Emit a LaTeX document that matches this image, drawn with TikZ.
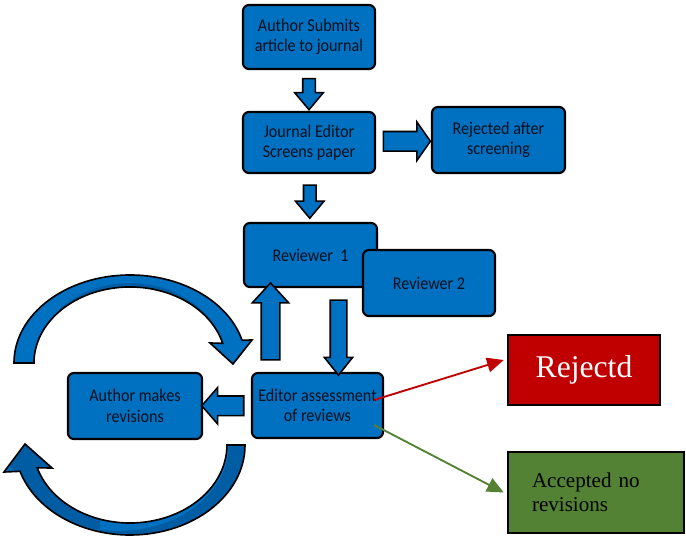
\documentclass[tikz,border=0pt]{standalone}
\usepackage{fontspec}
\setmainfont{Carlito}
\newfontfamily\boxfont[FakeStretch=0.9]{Carlito}
\newfontfamily\timesfont{Liberation Serif}
\usetikzlibrary{shapes.arrows, arrows.meta, calc}

\definecolor{boxblue}{HTML}{0070C0}
\definecolor{shadeblue}{HTML}{005DA3}
\definecolor{boxtext}{HTML}{06101E}
\definecolor{rejred}{HTML}{C00000}
\definecolor{accgreen}{HTML}{548235}

\begin{document}
\begin{tikzpicture}[x=0.3mm, y=-0.3mm, thick,
 flow box/.style 2 args={rectangle, rounded corners=5pt, draw=black, line width=1.8pt,
   fill=boxblue, text=boxtext, align=center, inner sep=0pt,
   font=\boxfont\fontsize{15.3}{17.5}\selectfont, minimum width=#1*0.3mm, minimum height=#2*0.3mm},
 outcome box/.style 2 args={rectangle, draw=black, line width=2.2pt, inner sep=0pt,
   minimum width=#1*0.3mm, minimum height=#2*0.3mm},
 block arrow/.style n args={4}{single arrow, draw=black, fill=boxblue, line width=1.3pt,
   inner xsep=0pt, inner ysep=#2, text height=0pt, text depth=0pt, minimum height=#1,
   single arrow head extend=#3, single arrow tip angle=#4},
 curl/.style={fill=boxblue, draw=black, line width=1.4pt},
 link/.style={line width=1.6pt, -{Triangle[length=5mm, width=4.4mm]}}]

  \useasboundingbox (0,0) rectangle (686,542);

  % boxes
  \node[flow box={132}{64}] (submit) at (309,37) {Author Submits\\article to journal};
  \node[flow box={132}{61}] (screen) at (309,142.5) {Journal Editor\\Screens paper};
  \node[flow box={133}{66}] (rejscreen) at (498.5,140) {Rejected after\\screening};
  \node[flow box={133}{64}] (rev1) at (310.5,255) {Reviewer\ \ 1};
  \node[flow box={132}{66}] (rev2) at (429,283) {Reviewer 2};
  \node[flow box={131}{65}] (assess) at (317.5,405.5) {Editor assessment\\of reviews};
  \node[flow box={134}{66}] (revise) at (135,406) {Author makes\\revisions};

  \node[outcome box={152}{70}, fill=rejred, text=white,
        font=\timesfont\fontsize{27}{30}\selectfont] (reject) at (584,370) {Rejectd};
  \node[outcome box={176}{81}, fill=accgreen, text=black, text width=38.4mm, align=left,
        font=\timesfont\fontsize{18}{20.5}\selectfont] (accept) at (596,492.5) {Accepted no\\revisions};

  % block arrows
  \node[block arrow={9.3mm}{1.65mm}{2.4mm}{80}, rotate=-90] (a1) at ($(submit.south)!.5!(screen.north)$) {};
  \node[block arrow={14.1mm}{2.7mm}{2.85mm}{110}] (a2) at ($(screen.east)!.5!(rejscreen.west)$) {};
  \node[block arrow={9.9mm}{1.65mm}{2.4mm}{80}, rotate=-90] (a3) at ($(screen.south)!.5!(rev1.north)$) {};
  \node[block arrow={22.5mm}{2.25mm}{1.8mm}{77}, rotate=-90] (a4) at (338.5,332.5) {};
  \node[block arrow={23.1mm}{2.55mm}{2.7mm}{85}, rotate=90] (a5) at (270.5,326.5) {};
  \node[block arrow={12.6mm}{2.7mm}{2.55mm}{98}, rotate=180] (a6) at ($(revise.east)!.5!(assess.west)$) {};

  % revision loop
  \filldraw[curl, path picture={
      \begin{scope}
        \clip (60,250) rectangle (210,363);
        \fill[shadeblue, even odd rule] (130,366) ellipse [x radius=97, y radius=83]
          (130,363) ellipse [x radius=96, y radius=76];
      \end{scope}}]
    (14,363) arc[start angle=180, end angle=345, x radius=116, y radius=88]
    -- (252,340) -- (233,364) -- (210,343) -- (222.7,343.3)
    arc[start angle=345, end angle=180, x radius=96, y radius=76] -- cycle;
  \filldraw[curl, path picture={
      \fill[shadeblue, even odd rule] (100,440) rectangle (260,545)
        (118,445) ellipse [x radius=111, y radius=86];}]
    (245,445) arc[start angle=0, end angle=163, x radius=115, y radius=90]
    -- (4,472) -- (25,444) -- (52,468) -- (37.2,467.8)
    arc[start angle=163, end angle=0, x radius=97, y radius=78] -- cycle;

  % decisions
  \draw[link, rejred] ([shift={(-10,-5.5)}]assess.east) -- ([shift={(-3,-10)}]reject.west);
  \draw[link, accgreen] ([shift={(-10,19.5)}]assess.east) -- ([shift={(-3,0)}]accept.west);
\end{tikzpicture}
\end{document}
